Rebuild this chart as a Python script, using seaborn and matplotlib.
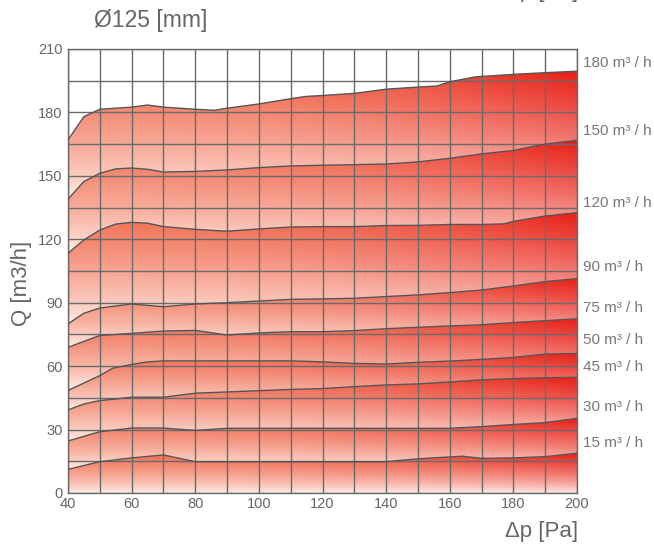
import numpy as np
import matplotlib
matplotlib.use('Agg')
import matplotlib.pyplot as plt
import matplotlib.transforms as mtransforms
import seaborn as sns

# flow curves Q [m3/h] vs pressure drop dp [Pa]
flows = [15, 30, 45, 50, 75, 90, 120, 150, 180]

q15_x = [40, 50, 60, 70, 80, 140, 150, 164, 170, 180, 190, 200]
q15_y = [11.2, 14.8, 16.6, 18.0, 14.8, 14.8, 16.2, 17.4, 16.4, 16.6, 17.2, 18.8]

q30_x = [40, 50, 60, 70, 80, 90, 160, 170, 180, 190, 200]
q30_y = [24.6, 29.0, 30.7, 30.7, 29.6, 30.6, 30.6, 31.4, 32.4, 33.3, 35.3]

q45_x = [40, 45, 50, 60, 70, 80, 90, 100, 110, 120, 130, 140, 150, 160, 170, 180, 190, 200]
q45_y = [39.3, 42.1, 43.7, 45.3, 45.3, 47.2, 47.8, 48.4, 49.0, 49.4, 50.3, 51.1, 51.6, 52.5, 53.5, 54.1, 54.5, 54.7]

q50_x = [40, 50, 54, 60, 65, 70, 110, 120, 130, 140, 150, 160, 170, 180, 190, 200]
q50_y = [48.5, 55.5, 59.0, 60.8, 62.0, 62.5, 62.5, 62.0, 61.3, 61.0, 61.8, 62.4, 63.2, 64.1, 65.7, 66.0]

q75_x = [40, 50, 60, 70, 80, 90, 100, 110, 120, 130, 140, 150, 160, 170, 180, 190, 200]
q75_y = [68.9, 74.5, 75.5, 76.6, 76.9, 74.7, 75.7, 76.3, 76.3, 76.8, 77.7, 78.4, 79.0, 79.6, 80.6, 81.5, 82.4]

q90_x = [40, 45, 50, 60, 70, 80, 90, 100, 110, 120, 130, 140, 150, 160, 170, 180, 190, 200]
q90_y = [80.0, 85.0, 87.5, 89.4, 88.1, 89.4, 90.0, 90.8, 91.6, 91.8, 92.1, 92.9, 93.7, 94.8, 96.0, 97.9, 100.0, 101.4]

q120_x = [40, 45, 50, 55, 60, 65, 70, 80, 90, 100, 110, 120, 130, 140, 150, 160, 170, 177, 180, 190, 200]
q120_y = [113.4, 119.7, 124.4, 127.2, 128.0, 127.6, 126.0, 124.7, 123.8, 124.9, 125.8, 126.0, 126.0, 126.5, 126.6, 127.0, 127.0, 127.3, 128.5, 131.0, 132.6]

q150_x = [40, 45, 50, 55, 60, 65, 70, 80, 90, 100, 110, 120, 130, 140, 150, 160, 170, 180, 190, 200]
q150_y = [139.0, 147.3, 151.2, 153.3, 153.7, 153.1, 151.8, 152.1, 152.8, 153.9, 154.7, 155.0, 155.3, 155.6, 156.6, 158.3, 160.4, 162.0, 165.0, 166.8]

q180_x = [40, 45, 50, 60, 65, 70, 80, 86, 90, 100, 110, 115, 120, 130, 140, 150, 156, 160, 168, 180, 190, 200]
q180_y = [167.0, 178.0, 181.5, 182.5, 183.5, 182.5, 181.5, 181.0, 182.0, 184.0, 186.5, 187.6, 188.0, 189.0, 191.0, 192.0, 192.5, 194.5, 196.8, 198.0, 198.8, 199.5]

curves = [(q15_x, q15_y), (q30_x, q30_y), (q45_x, q45_y), (q50_x, q50_y), (q75_x, q75_y),
          (q90_x, q90_y), (q120_x, q120_y), (q150_x, q150_y), (q180_x, q180_y)]

# where the flow labels sit on the right (data y)
label_pos = [23.8, 40.5, 59.5, 72.4, 87.4, 106.8, 137.0, 171.4, 203.6]

sns.set_style('white')
plt.rcParams['font.family'] = ['Liberation Sans', 'DejaVu Sans']

grey = '#666666'
pale = np.array([1.0, 0.965, 0.945])
top_left = np.array([0.945, 0.43, 0.32])
top_right = np.array([0.91, 0.12, 0.09])

fig = plt.figure(figsize=(6.54, 5.44), dpi=100)
ax = fig.add_axes([68 / 654, 51 / 544, 509 / 654, 444 / 544])

u = np.linspace(0, 1, 300)
v = np.linspace(0, 1, 200)
U, V = np.meshgrid(u, v)
top = top_left + (top_right - top_left) * (U[..., None] ** 2.2)

lower_x, lower_y = [40, 200], [0, 0]
for (cx, cy) in curves:
    px = np.r_[cx, lower_x[::-1]]
    py = np.r_[cy, lower_y[::-1]]
    poly = ax.fill(px, py, facecolor='none', edgecolor='none')[0]
    ylo, yhi = min(lower_y), max(cy)
    img = pale + (top - pale) * (V[..., None] ** 0.7)
    im = ax.imshow(img, extent=[40, 200, ylo, yhi], origin='lower', aspect='auto',
                   interpolation='bilinear', zorder=1)
    im.set_clip_path(poly)
    lower_x, lower_y = cx, cy

for (cx, cy) in curves:
    sns.lineplot(x=cx, y=cy, ax=ax, color='#555555', lw=1.0, sort=False,
                 estimator=None, zorder=4)

ax.set_xlim(40, 200)
ax.set_ylim(0, 210)
ax.set_xticks(range(40, 201, 20))
ax.set_xticks(range(40, 201, 10), minor=True)
ax.set_yticks(range(0, 211, 30))
ax.set_yticks(range(0, 211, 15), minor=True)
ax.grid(True, which='both', color='#6a6a6a', lw=1.0)
ax.set_axisbelow(False)
ax.tick_params(which='both', length=0, labelsize=10.5, labelcolor=grey)
ax.tick_params(axis='y', pad=4)
ax.tick_params(axis='x', pad=3)
for s in ax.spines.values():
    s.set_color('#6a6a6a')
    s.set_linewidth(1.0)

trans = mtransforms.blended_transform_factory(ax.transAxes, ax.transData)
for q, yp in zip(flows, label_pos):
    ax.text(1.012, yp, f'{q} m³ / h', transform=trans, va='center', ha='left',
            fontsize=11, color='#777777', clip_on=False)

fig.text(94 / 654, 1 - 21 / 544, 'Ø125 [mm]', fontsize=16.5, color=grey, va='center', ha='left')
fig.text(21 / 654, 1 - 283 / 544, 'Q [m3/h]', fontsize=16, color=grey, rotation=90,
         va='center', ha='center')
fig.text(578 / 654, 1 - 531 / 544, 'Δp [Pa]', fontsize=16, color=grey, va='center', ha='right')
fig.text(578 / 654, 1 + 3.5 / 544, 'Δp [Pa]', fontsize=16, color=grey, va='baseline', ha='right')

fig.savefig('out.png', dpi=100)
